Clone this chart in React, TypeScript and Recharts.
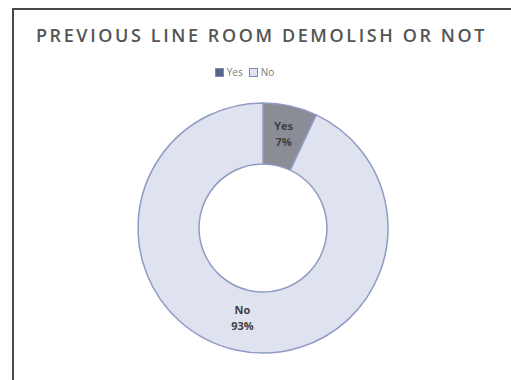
import { PieChart, Pie, Cell, Legend } from 'recharts'

const categories = ['Yes', 'No']
const shares = [7, 93]
const sliceColors = ['#8a8c96', '#dfe3ef']
const legendColors = ['#5a6388', '#dfe3ef']

const data = categories.map((name, i) => ({ name, value: shares[i] }))

const RAD = Math.PI / 180

function renderLabel(props: any) {
  const { cx, cy, midAngle, innerRadius, outerRadius, name, value } = props
  const r = (innerRadius + outerRadius) / 2
  const x = cx + r * Math.cos(-midAngle * RAD)
  const y = cy + r * Math.sin(-midAngle * RAD)
  return (
    <text
      x={x}
      y={y}
      textAnchor="middle"
      fill="#404040"
      fontSize={11}
      fontWeight="bold"
      fontFamily="'Open Sans', sans-serif"
    >
      <tspan x={x} dy={-6}>{name}</tspan>
      <tspan x={x} dy={16}>{value}%</tspan>
    </text>
  )
}

function LegendBox() {
  return (
    <div style={{ display: 'flex', justifyContent: 'center', gap: 6, fontFamily: "'Open Sans', sans-serif", fontSize: 10, lineHeight: '14px', color: '#7a7a7a' }}>
      {categories.map((c, i) => (
        <span key={c} style={{ display: 'flex', alignItems: 'center', gap: 3 }}>
          <span style={{ width: 7, height: 7, background: legendColors[i], border: '1px solid #7d89b8', display: 'inline-block' }} />
          {c}
        </span>
      ))}
    </div>
  )
}

export default function App() {
  return (
    <div style={{ position: 'absolute', left: 8, top: 8, width: 503, height: 372, background: '#fff', overflow: 'hidden' }}>
      <div style={{ position: 'absolute', left: 4, top: 0, width: 499, height: 372, borderTop: '2px solid #4a4a4a', borderLeft: '2px solid #4a4a4a', boxSizing: 'border-box' }} />
      <div style={{ position: 'absolute', left: 4, top: 15, width: 499, textAlign: 'center', fontFamily: "'Open Sans', sans-serif", fontSize: 18, fontWeight: 600, letterSpacing: 2.6, color: '#555' }}>
        PREVIOUS LINE ROOM DEMOLISH OR NOT
      </div>
      <PieChart width={503} height={372} margin={{ top: 0, right: 0, bottom: 0, left: 0 }} style={{ position: 'absolute', left: 0, top: 0 }}>
        <Legend content={<LegendBox />} verticalAlign="top" height={14} wrapperStyle={{ top: 57, left: -15, width: 503 }} />
        <Pie
          data={data}
          dataKey="value"
          nameKey="name"
          cx={255}
          cy={206}
          innerRadius={64}
          outerRadius={125}
          startAngle={90}
          endAngle={-270}
          stroke="#8f9bc4"
          strokeWidth={1.5}
          label={renderLabel}
          labelLine={false}
          isAnimationActive={false}
        >
          {data.map((d, i) => (
            <Cell key={d.name} fill={sliceColors[i]} />
          ))}
        </Pie>
      </PieChart>
    </div>
  )
}
